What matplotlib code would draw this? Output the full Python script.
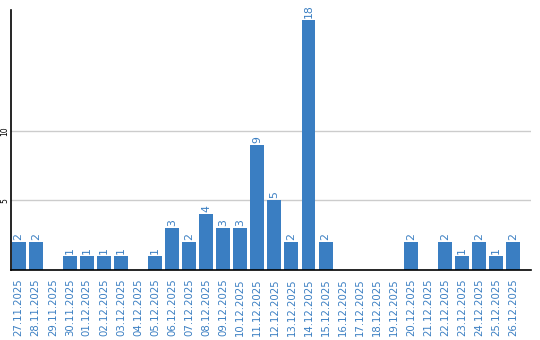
import matplotlib

matplotlib.use("Agg")
import matplotlib.pyplot as plt
import numpy as np

dates = [
    "27.11.2025", "28.11.2025", "29.11.2025", "30.11.2025", "01.12.2025",
    "02.12.2025", "03.12.2025", "04.12.2025", "05.12.2025", "06.12.2025",
    "07.12.2025", "08.12.2025", "09.12.2025", "10.12.2025", "11.12.2025",
    "12.12.2025", "13.12.2025", "14.12.2025", "15.12.2025", "16.12.2025",
    "17.12.2025", "18.12.2025", "19.12.2025", "20.12.2025", "21.12.2025",
    "22.12.2025", "23.12.2025", "24.12.2025", "25.12.2025", "26.12.2025",
]
counts = [2, 2, 0, 1, 1, 1, 1, 0, 1, 3, 2, 4, 3, 3, 9, 5, 2, 18, 2, 0,
          0, 0, 0, 2, 0, 2, 1, 2, 1, 2]
y_ticks = [5, 10]

BLUE = "#3a7ec2"

fig = plt.figure(figsize=(5.4, 3.4), dpi=100, facecolor="white")
ax = fig.add_axes([11 / 540, 70 / 340, 520 / 540, 260 / 340])

x = np.arange(len(dates))
ax.bar(x, counts, width=0.82, color=BLUE, zorder=2)

for xi, c in zip(x, counts):
    if c > 0:
        ax.text(xi, c + 0.15, str(c), rotation=90, ha="center", va="bottom",
                fontsize=7.8, color=BLUE)

ax.set_xlim(-0.45, len(dates) + 0.05)
ax.set_ylim(0, 18.7)
ax.set_yticks(y_ticks)
ax.set_yticklabels([str(t) for t in y_ticks], rotation=90, va="center",
                   fontsize=5.5, color="black")
ax.set_xticks(x)
ax.set_xticklabels(dates, rotation=90, fontsize=7.3, color=BLUE)
ax.tick_params(axis="both", length=0)
ax.tick_params(axis="x", pad=6)
ax.tick_params(axis="y", pad=1)
ax.grid(axis="y", color="#cccccc", linewidth=1, zorder=0)
for side in ("top", "right"):
    ax.spines[side].set_visible(False)
ax.spines["left"].set_color("black")
ax.spines["bottom"].set_color("black")
ax.spines["left"].set_linewidth(1.2)
ax.spines["bottom"].set_linewidth(1.2)

fig.savefig("out.png", dpi=100, facecolor="white")
